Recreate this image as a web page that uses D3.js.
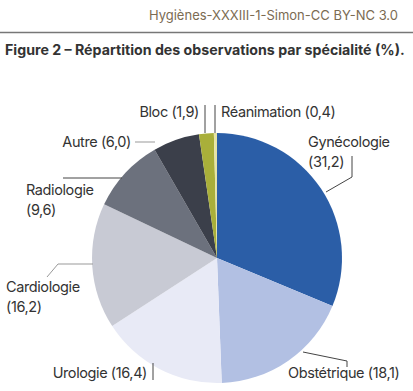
<!DOCTYPE html>
<html>
<head>
<meta charset="utf-8">
<script src="https://cdn.jsdelivr.net/npm/d3@7"></script>
<style>
  body { margin: 0; background: #fff; }
  text { font-family: Inter, "Noto Sans", sans-serif; }
</style>
</head>
<body>
<svg width="413" height="391"></svg>
<script>
const names = ['Gynécologie', 'Obstétrique', 'Urologie', 'Cardiologie', 'Radiologie', 'Autre', 'Bloc', 'Réanimation'];
const values = [31.2, 18.1, 16.4, 16.2, 9.6, 6.0, 1.9, 0.4];
const colors = ['#2b5ea7', '#b2c0e3', '#e8eaf6', '#c8cad4', '#6c717d', '#3b3f4a', '#a9af3a', '#e6e4a6'];

const fmt = v => '(' + d3.format('.1f')(v).replace('.', ',') + ')';

const svg = d3.select('svg'),
    cx = 217, cy = 258, r = 125;

// header
svg.append('text')
    .attr('x', 398).attr('y', 20)
    .attr('text-anchor', 'end')
    .attr('font-size', 13)
    .attr('fill', '#7b6b52')
    .text('Hygiènes-XXXIII-1-Simon-CC BY-NC 3.0');

svg.append('line')
    .attr('x1', 0).attr('x2', 413)
    .attr('y1', 32.5).attr('y2', 32.5)
    .attr('stroke', '#777').attr('stroke-width', 1.5);

const title = svg.append('text')
    .attr('x', 5).attr('y', 55)
    .attr('font-size', 15)
    .attr('font-weight', 700)
    .attr('fill', '#333')
    .text('Figure 2 – Répartition des observations par spécialité (%).');
// shrink the title until it fits the width
const tw = title.node().getComputedTextLength();
if (tw > 400) title.attr('font-size', 15 * 400 / tw);

const pie = d3.pie().sort(null).value(d => d)(values);
const arc = d3.arc().innerRadius(0).outerRadius(r);

const g = svg.append('g').attr('transform', `translate(${cx},${cy})`);
g.selectAll('path')
    .data(pie)
    .enter().append('path')
      .attr('d', arc)
      .attr('fill', (d, i) => colors[i]);

// labels and leader lines
const labels = [
  { t: [names[0], fmt(values[0])], x: 308, y: 147, a: 'start', p: [[352, 156], [352, 177], [326, 192]] },
  { t: [names[1] + ' ' + fmt(values[1])], x: 288, y: 378, a: 'start', p: [[303, 352], [347, 361], [347, 367]] },
  { t: [names[2] + ' ' + fmt(values[2])], x: 147, y: 378, a: 'end', p: [[153, 363], [153, 380]] },
  { t: [names[3], fmt(values[3])], x: 6, y: 292, a: 'start', p: [[47, 277], [58, 264], [93, 264]] },
  { t: [names[4], fmt(values[4])], x: 26, y: 195, a: 'start', p: [[63, 178], [122, 178]] },
  { t: [names[5] + ' ' + fmt(values[5])], x: 131, y: 147, a: 'end', p: [[135, 142], [155, 142]] },
  { t: [names[6] + ' ' + fmt(values[6])], x: 199, y: 117, a: 'end', p: [[205, 105], [205, 133]] },
  { t: [names[7] + ' ' + fmt(values[7])], x: 221, y: 117, a: 'start', p: [[215, 105], [215, 133]] }
];

const line = d3.line();
svg.selectAll('path.leader')
    .data(labels)
    .enter().append('path')
      .attr('class', 'leader')
      .attr('d', d => line(d.p))
      .attr('fill', 'none')
      .attr('stroke', (d, i) => i === 3 || i === 5 ? '#999' : '#444')
      .attr('stroke-width', 1);

const lt = svg.selectAll('text.lab')
    .data(labels)
    .enter().append('text')
      .attr('class', 'lab')
      .attr('x', d => d.x)
      .attr('y', d => d.y)
      .attr('text-anchor', d => d.a)
      .attr('font-size', 14.5)
      .attr('letter-spacing', -0.4)
      .attr('fill', '#333');
lt.selectAll('tspan')
    .data(d => d.t.map(s => ({ s, x: d.x })))
    .enter().append('tspan')
      .attr('x', d => d.x)
      .attr('dy', (d, i) => i ? 20 : 0)
      .text(d => d.s);
</script>
</body>
</html>
